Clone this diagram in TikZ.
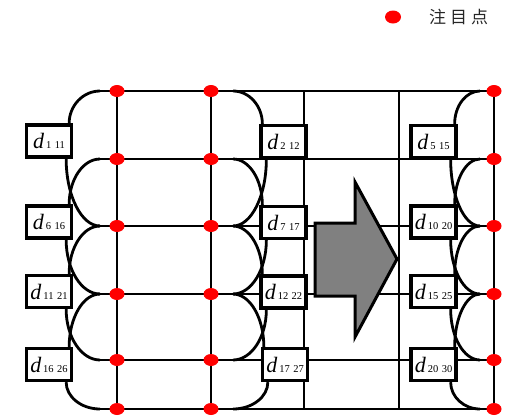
\documentclass[tikz,border=0pt]{standalone}
\usepackage{fontspec}
\setmainfont{Liberation Serif}
\newfontfamily\cjk{Noto Sans CJK SC}
\usetikzlibrary{calc,shapes.geometric}
\pgfdeclarelayer{bg}
\pgfsetlayers{bg,main}
\newcommand\qarc[2]{\draw[wire] let \p1=(#1), \p2=(#2) in (\p1) .. controls (\x1,{0.45*(\y1)+0.55*(\y2)}) and ({0.55*(\x1)+0.45*(\x2)},\y2) .. (\p2);}
\newcommand\dl[2]{{\fontsize{22}{22}\selectfont\itshape d}\hspace{2pt}{\fontsize{10.5}{10.5}\selectfont #1\hspace{3.5pt}#2}}
\begin{document}
\begin{tikzpicture}[x=1pt,y=1pt,
  wire/.style={line width=2.8pt},
  dbox/.style={draw,line width=3.3pt,fill=white,minimum width=45pt,minimum height=32pt,inner sep=0pt},
  dotn/.style={ellipse,fill=red,minimum width=15pt,minimum height=12pt,inner sep=0pt},
  bigarrow/.style={fill=black!50,draw=black,line width=3pt,line join=miter}]
\useasboundingbox (0,0) rectangle (511,-416);
% grid coordinates
\foreach \r/\y in {1/91,2/159,3/226,4/294,5/360,6/409} {
  \foreach \c/\x in {1/117,2/211,3/304,4/399,5/494} {\coordinate (g-\r-\c) at (\x,-\y);}
  \coordinate (kl-\r) at (100,-\y);
  \coordinate (km-\r) at (233,-\y);
  \coordinate (kr-\r) at (480,-\y);
}
% boxes
\node[dbox] (bl-1) at (49,-141) {\dl{1}{11}};
\node[dbox] (bl-2) at (49,-222) {\dl{6}{16}};
\node[dbox] (bl-3) at (49,-291.5) {\dl{11}{21}};
\node[dbox] (bl-4) at (49,-364.5) {\dl{16}{26}};
\node[dbox] (bm-1) at (283.5,-141.5) {\dl{2}{12}};
\node[dbox] (bm-2) at (283.5,-222.5) {\dl{7}{17}};
\node[dbox] (bm-3) at (283.5,-292) {\dl{12}{22}};
\node[dbox] (bm-4) at (285,-364.5) {\dl{17}{27}};
\node[dbox] (br-1) at (433.5,-141.5) {\dl{5}{15}};
\node[dbox] (br-2) at (433.5,-222) {\dl{10}{20}};
\node[dbox] (br-3) at (433.5,-291.5) {\dl{15}{25}};
\node[dbox] (br-4) at (433.5,-364.5) {\dl{20}{30}};
\begin{pgfonlayer}{bg}
\foreach \r in {1,...,6} {\draw[wire] (kl-\r) -- (g-\r-5);}
\foreach \c in {1,...,5} {\draw[wire] (g-1-\c) -- (g-6-\c);}
\foreach \k [evaluate=\k as \kk using int(\k+2)] in {1,...,4} {
  \qarc{[xshift=-4pt]bl-\k.north east}{kl-\k}
  \qarc{[xshift=-7pt]bl-\k.south east}{kl-\kk}
  \qarc{[xshift=3pt]bm-\k.north west}{km-\k}
  \qarc{[xshift=7pt]bm-\k.south west}{km-\kk}
  \qarc{[xshift=-3pt]br-\k.north east}{kr-\k}
  \qarc{[xshift=-7pt]br-\k.south east}{kr-\kk}
}
\end{pgfonlayer}
% arrow
\draw[bigarrow] (315,-223) -- (355,-223) -- (355,-182) -- (397,-259) -- (355,-337) -- (355,-296) -- (315,-296) -- cycle;
% dots
\foreach \r in {1,...,6} {
  \foreach \c in {1,2,5} {\node[dotn] (d-\r-\c) at (g-\r-\c) {};}
}
% legend
\node[dotn,minimum width=16pt,minimum height=13pt] (ld) at (393,-17) {};
\node[anchor=west,text=black!85,inner sep=0pt] (lt) at (429,-17) {\cjk\fontsize{17}{17}\selectfont 注\hspace{4pt}目\hspace{4pt}点};
\end{tikzpicture}
\end{document}
